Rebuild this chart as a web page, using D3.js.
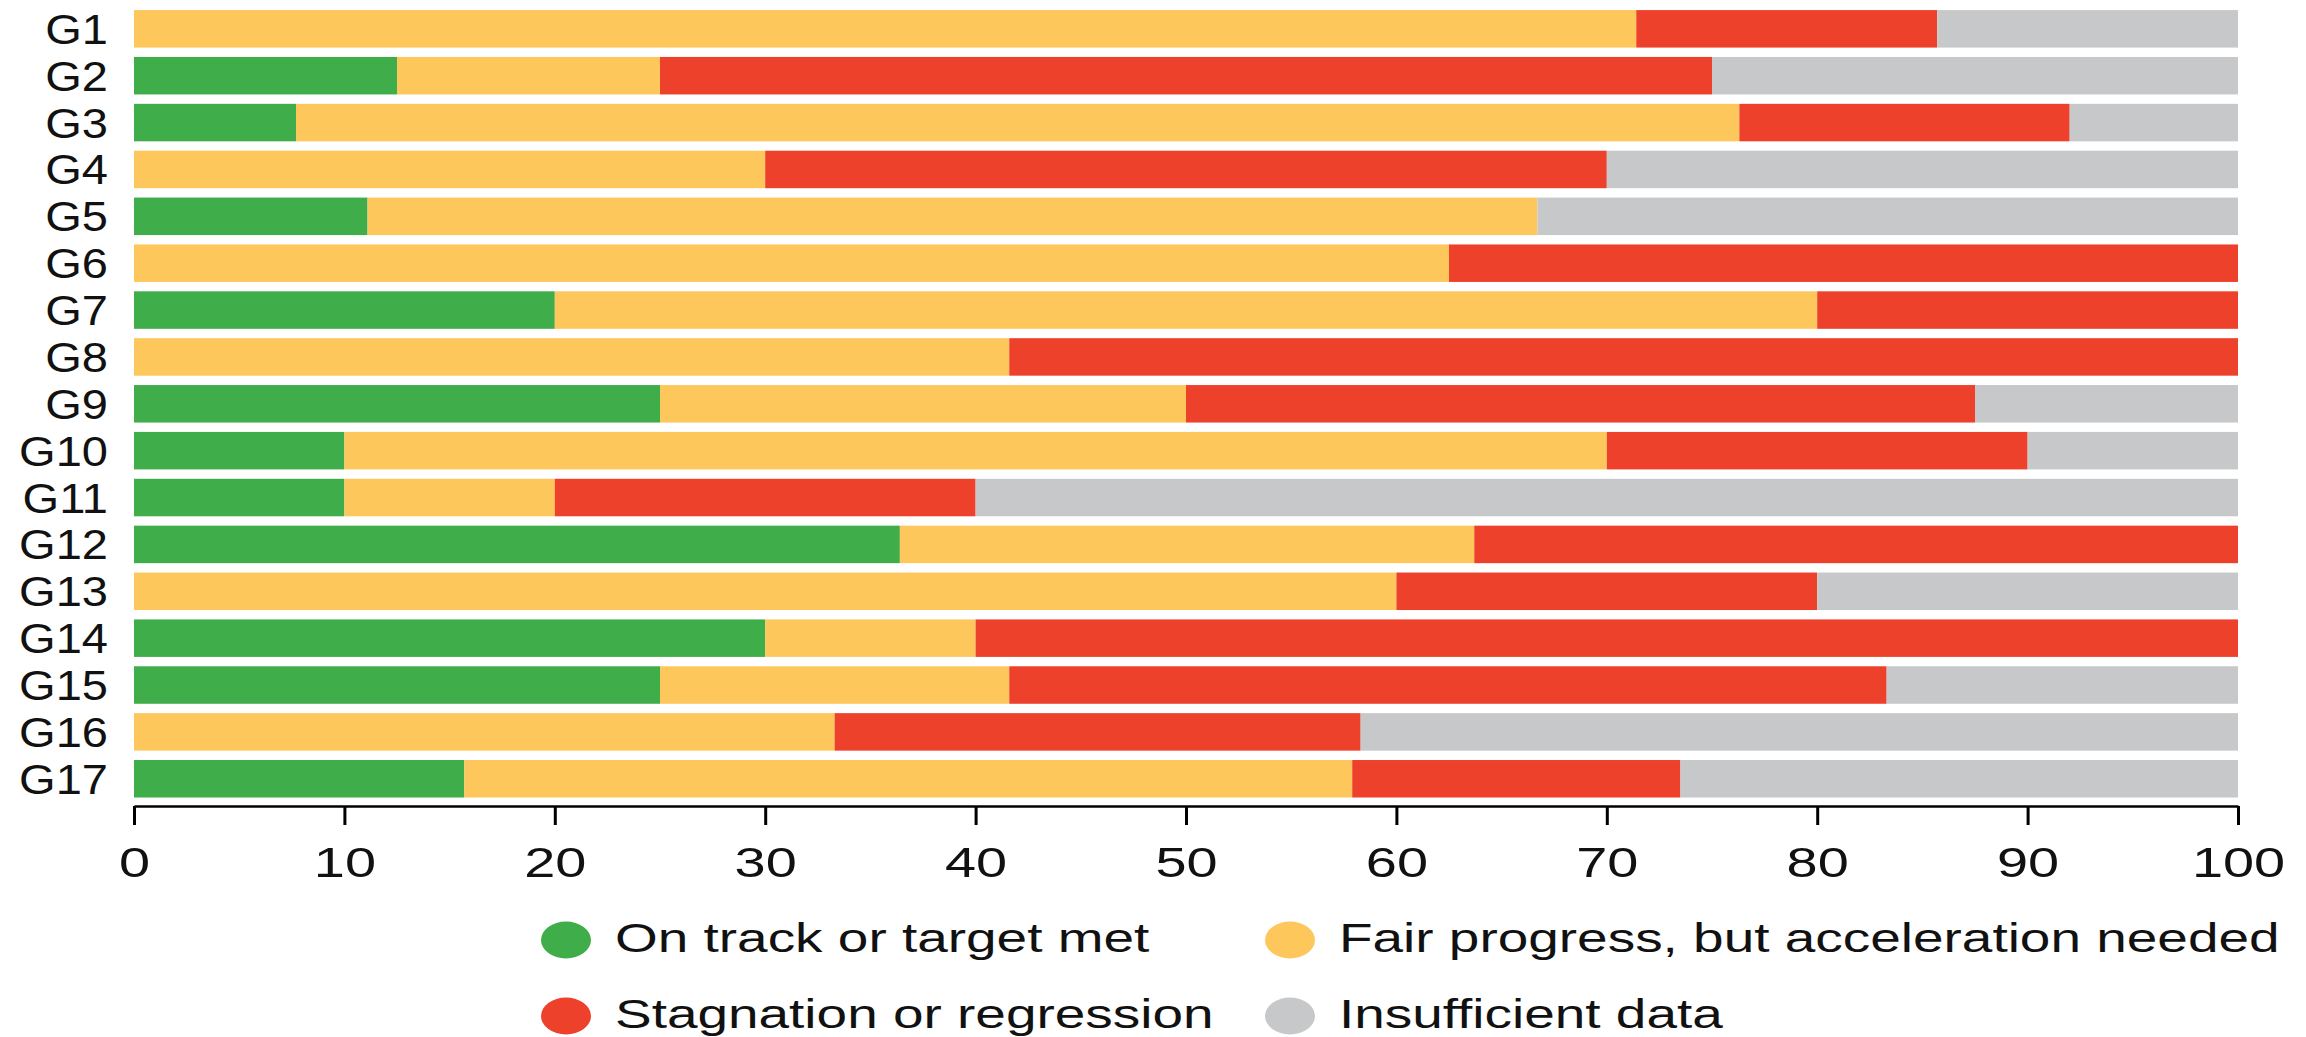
<!DOCTYPE html>
<html>
<head>
<meta charset="utf-8">
<script src="https://cdn.jsdelivr.net/npm/d3@7"></script>
<style>
  body { margin: 0; background: #fff; }
  text { font-family: "Liberation Sans", Arial, sans-serif; fill: #111; }
</style>
</head>
<body>
<div id="chart"></div>
<script>
// goals and share of targets (%) per status
const goals = ["G1", "G2", "G3", "G4", "G5", "G6", "G7", "G8", "G9", "G10", "G11", "G12", "G13", "G14", "G15", "G16", "G17"];
const onTrack      = [0, 12.5, 7.7, 0, 11.1, 0, 20, 0, 25, 10, 10, 36.4, 0, 30, 25, 0, 15.7];
const fairProgress = [71.4, 12.5, 68.6, 30, 55.6, 62.5, 60, 41.6, 25, 60, 10, 27.3, 60, 10, 16.6, 33.3, 42.2];
const stagnation   = [14.3, 50, 15.7, 40, 0, 37.5, 20, 58.4, 37.5, 20, 20, 36.3, 20, 60, 41.7, 25, 15.6];
const insufficient = [14.3, 25, 8.0, 30, 33.3, 0, 0, 0, 12.5, 10, 60, 0, 20, 0, 16.7, 41.7, 26.5];
const xTicks = [0, 10, 20, 30, 40, 50, 60, 70, 80, 90, 100];
const seriesNames = ["On track or target met", "Fair progress, but acceleration needed", "Stagnation or regression", "Insufficient data"];

const keys = ["onTrack", "fairProgress", "stagnation", "insufficient"];
const colors = ["#3fad4a", "#fdc75c", "#ee412b", "#c7c8ca"];

const width = 2306;
const height = 1037;
const stretch = 1.3; // source text looks horizontally stretched

const svg = d3.select("#chart").append("svg").attr("width", width).attr("height", height);

const rows = goals.map((g, i) => ({
  goal: g,
  onTrack: onTrack[i],
  fairProgress: fairProgress[i],
  stagnation: stagnation[i],
  insufficient: insufficient[i]
}));

const series = d3.stack().keys(keys)(rows);

const x = d3.scaleLinear().domain([0, 100]).range([134, 2238]);
const y = d3.scaleBand().domain(goals).range([5.4, 802.2]).paddingInner(0.2).paddingOuter(0.1);
const color = d3.scaleOrdinal().domain(keys).range(colors);

// bars
svg.append("g")
  .selectAll("g")
  .data(series)
  .join("g")
  .attr("fill", (d) => color(d.key))
  .selectAll("rect")
  .data((d) => d)
  .join("rect")
  .attr("x", (d) => x(d[0]))
  .attr("y", (d) => y(d.data.goal))
  .attr("width", (d) => Math.max(0, x(d[1]) - x(d[0])))
  .attr("height", y.bandwidth());

// goal labels
svg.append("g")
  .selectAll("text")
  .data(goals)
  .join("text")
  .attr("text-anchor", "end")
  .attr("font-size", 42)
  .attr("transform", (d) => `translate(108,${y(d) + y.bandwidth() / 2 + 15}) scale(1.12,1)`)
  .text((d) => d);

// x axis
const axis = svg.append("g")
  .attr("transform", "translate(0,806)")
  .call(d3.axisBottom(x).tickValues(xTicks).tickSize(19).tickSizeOuter(0));

axis.select(".domain").attr("stroke", "#000").attr("stroke-width", 2.5);
axis.selectAll(".tick line").attr("stroke", "#000").attr("stroke-width", 3);
axis.selectAll(".tick text")
  .attr("y", 0)
  .attr("dy", 0)
  .attr("font-size", 43)
  .attr("font-family", null)
  .attr("fill", "#111")
  .attr("transform", `translate(0,71) scale(${stretch},1)`);

// legend
const legendPos = [[566, 940], [1290, 940], [566, 1016], [1290, 1016]];
const legend = svg.append("g")
  .selectAll("g")
  .data(seriesNames)
  .join("g")
  .attr("transform", (d, i) => `translate(${legendPos[i][0]},${legendPos[i][1]})`);

legend.append("ellipse")
  .attr("rx", 25)
  .attr("ry", 18.5)
  .attr("fill", (d, i) => colors[i]);

legend.append("text")
  .attr("font-size", 41)
  .attr("transform", `translate(49,12) scale(1.34,1)`)
  .text((d) => d);
</script>
</body>
</html>
